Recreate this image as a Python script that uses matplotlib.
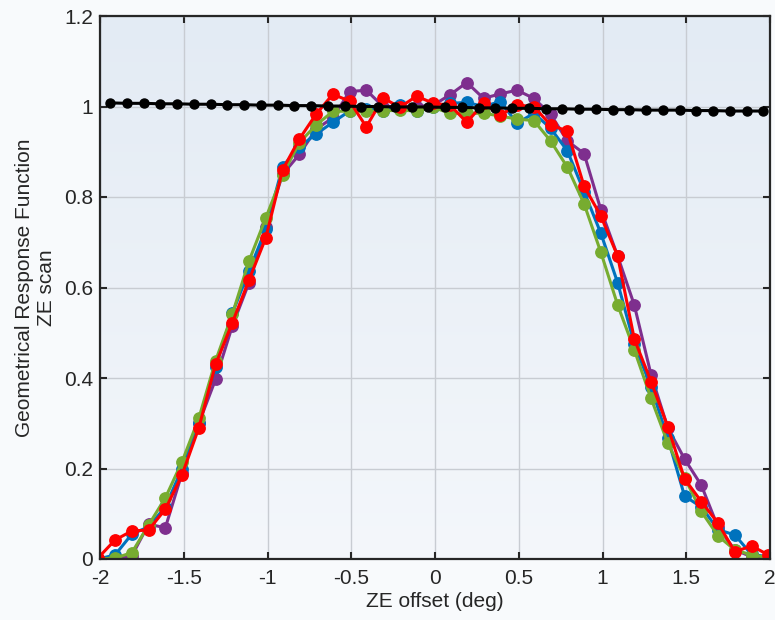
import numpy as np
import matplotlib
matplotlib.use("Agg")
import matplotlib.pyplot as plt
from matplotlib.colors import LinearSegmentedColormap

# shared x grid of the coloured scans (deg)
x_scan = [-2.01, -1.91, -1.81, -1.71, -1.61, -1.51, -1.41, -1.31, -1.21, -1.11,
          -1.01, -0.91, -0.81, -0.71, -0.61, -0.51, -0.41, -0.31, -0.21, -0.11,
          -0.01, 0.09, 0.19, 0.29, 0.39, 0.49, 0.59, 0.69, 0.79, 0.89,
          0.99, 1.09, 1.19, 1.29, 1.39, 1.49, 1.59, 1.69, 1.79, 1.89, 1.99]

y_purple = [0.0, 0.0, 0.007, 0.077, 0.069, 0.19, 0.30, 0.397, 0.515, 0.611,
            0.734, 0.85, 0.894, 0.95, 0.975, 1.033, 1.036, 1.0, 1.0, 1.0,
            1.003, 1.026, 1.053, 1.018, 1.028, 1.036, 1.018, 0.983, 0.924, 0.896,
            0.772, 0.67, 0.561, 0.407, 0.29, 0.221, 0.163, 0.07, 0.02, 0.005, 0.002]

y_blue = [0.0, 0.009, 0.055, 0.071, 0.115, 0.20, 0.30, 0.424, 0.543, 0.637,
          0.729, 0.867, 0.911, 0.939, 0.965, 0.990, 0.995, 0.99, 1.003, 0.989,
          1.0, 1.007, 1.009, 1.0, 1.011, 0.963, 0.985, 0.952, 0.902, 0.812,
          0.72, 0.611, 0.475, 0.38, 0.267, 0.139, 0.115, 0.065, 0.053, 0.01, 0.005]

y_green = [0.0, 0.002, 0.014, 0.075, 0.135, 0.215, 0.311, 0.438, 0.541, 0.659,
           0.754, 0.849, 0.92, 0.959, 0.989, 0.99, 0.989, 0.99, 0.992, 0.99,
           0.998, 0.985, 0.985, 0.985, 0.979, 0.972, 0.969, 0.924, 0.866, 0.785,
           0.678, 0.562, 0.462, 0.355, 0.256, 0.18, 0.105, 0.051, 0.02, 0.009, 0.003]

y_red = [0.003, 0.042, 0.062, 0.064, 0.11, 0.186, 0.29, 0.43, 0.522, 0.617,
         0.71, 0.86, 0.928, 0.983, 1.027, 1.012, 0.955, 1.019, 0.998, 1.023,
         1.007, 1.003, 0.965, 1.007, 0.981, 1.003, 1.0, 0.959, 0.946, 0.824,
         0.758, 0.670, 0.486, 0.392, 0.292, 0.177, 0.127, 0.079, 0.016, 0.029, 0.009]

# black reference curve
x_black = [-1.94, -1.84, -1.74, -1.64, -1.54, -1.44, -1.34, -1.24, -1.14, -1.04,
           -0.94, -0.84, -0.74, -0.64, -0.54, -0.44, -0.34, -0.24, -0.14, -0.04,
           0.06, 0.16, 0.26, 0.36, 0.46, 0.56, 0.66, 0.76, 0.86, 0.96,
           1.06, 1.16, 1.26, 1.36, 1.46, 1.56, 1.66, 1.76, 1.86, 1.96]
y_black = [1.008, 1.007, 1.007, 1.006, 1.006, 1.005, 1.005, 1.004, 1.004, 1.003,
           1.003, 1.002, 1.002, 1.001, 1.001, 1.000, 1.000, 0.999, 0.999, 0.999,
           0.998, 0.998, 0.997, 0.997, 0.996, 0.996, 0.995, 0.995, 0.994, 0.994,
           0.993, 0.993, 0.992, 0.992, 0.992, 0.991, 0.991, 0.990, 0.990, 0.990]

x_ticks = [-2, -1.5, -1, -0.5, 0, 0.5, 1, 1.5, 2]
x_ticklabels = ["-2", "-1.5", "-1", "-0.5", "0", "0.5", "1", "1.5", "2"]
y_ticks = [0, 0.2, 0.4, 0.6, 0.8, 1, 1.2]
y_ticklabels = ["0", "0.2", "0.4", "0.6", "0.8", "1", "1.2"]

plt.rcParams['font.family'] = ['Liberation Sans', 'DejaVu Sans']

fig = plt.figure(figsize=(7.75, 6.2), dpi=100, facecolor='#f8fafc')
ax = fig.add_axes([100/775, 61/620, 670/775, 543/620])

grad = np.linspace(0, 1, 256).reshape(-1, 1)
cmap = LinearSegmentedColormap.from_list('bg', ['#f4f7fb', '#e3ebf4'])
ax.imshow(grad, extent=[0, 1, 0, 1], transform=ax.transAxes, cmap=cmap,
          aspect='auto', origin='lower', zorder=0)

lw = 2.2
ms = 8.2
ax.plot(x_scan, y_purple, '-o', color='#7E2F8E', lw=lw, ms=ms, zorder=3)
ax.plot(x_scan, y_blue, '-o', color='#0072BD', lw=lw, ms=ms, zorder=4)
ax.plot(x_scan, y_green, '-o', color='#77AC30', lw=lw, ms=ms, zorder=5)
ax.plot(x_scan, y_red, '-o', color='#FF0000', lw=lw, ms=ms, zorder=6)
ax.plot(x_black, y_black, '-o', color='black', lw=2.2, ms=6.5, zorder=7)

ax.set_xlim(-2, 2)
ax.set_ylim(0, 1.2)
ax.set_xticks(x_ticks)
ax.set_xticklabels(x_ticklabels)
ax.set_yticks(y_ticks)
ax.set_yticklabels(y_ticklabels)
ax.grid(True, color='#c8ccd2', lw=1.0, zorder=1)
ax.set_axisbelow(True)
ax.tick_params(direction='in', length=5, width=1.5, top=True, right=True,
               labelsize=15, colors='#262626', pad=5)
ax.tick_params(axis='x', pad=7)
for s in ax.spines.values():
    s.set_color('#262626')
    s.set_linewidth(1.6)
    s.set_zorder(8)

ax.set_xlabel('ZE offset (deg)', fontsize=15, color='#262626', labelpad=3)
ax.set_ylabel('Geometrical Response Function\nZE scan', fontsize=15,
              color='#262626', labelpad=6, linespacing=1.15)

fig.savefig('out.png', dpi=100, facecolor=fig.get_facecolor())
